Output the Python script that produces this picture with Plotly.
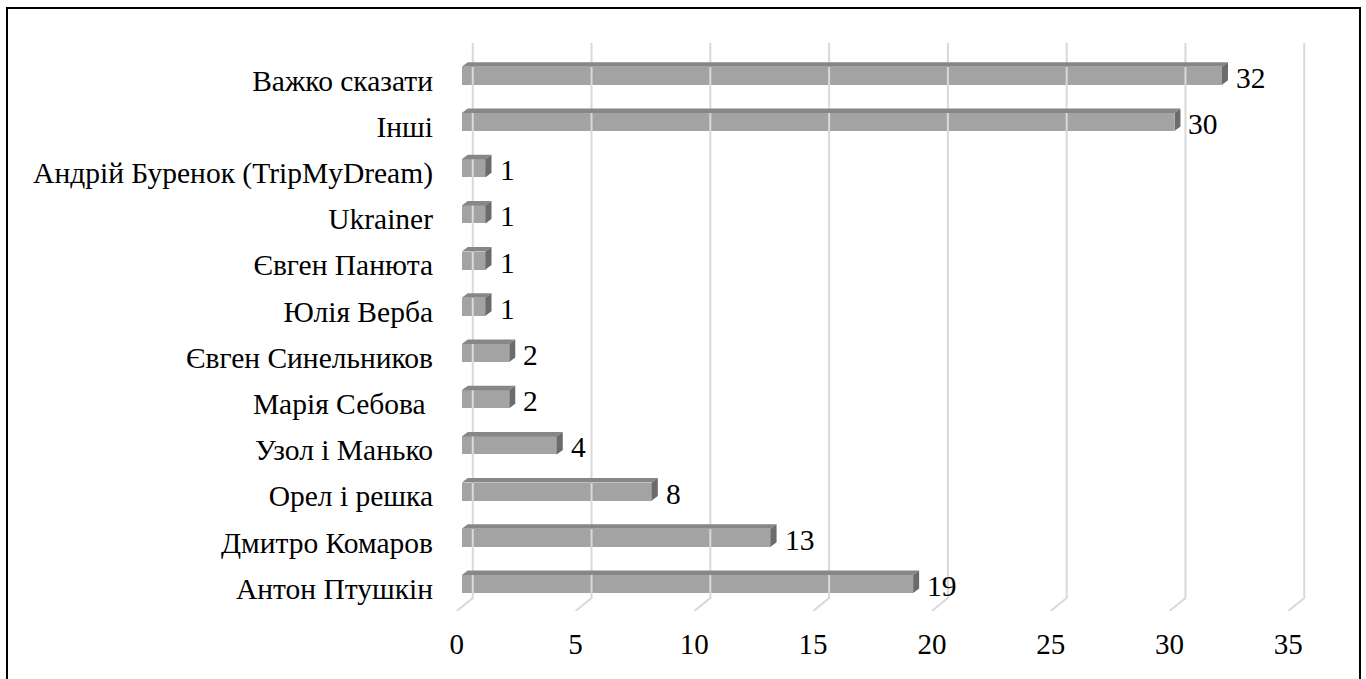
import plotly.graph_objects as go

# Survey answers (top to bottom as listed) and their counts
categories = [
    "Важко сказати",
    "Інші",
    "Андрій Буренок (TripMyDream)",
    "Ukrainer",
    "Євген Панюта",
    "Юлія Верба",
    "Євген Синельников",
    "Марія Себова ",
    "Узол і Манько",
    "Орел і решка",
    "Дмитро Комаров",
    "Антон Птушкін",
]
values = [32, 30, 1, 1, 1, 1, 2, 2, 4, 8, 13, 19]
tick_values = [0, 5, 10, 15, 20, 25, 30, 35]

# ---- geometry of the pseudo-3D frame -------------------------------------
W, H = 1366, 679
M_L, M_R, M_T, M_B = 438, 49, 43, 68
X_RANGE = [-1.0, 36.0]
Y_RANGE = [-0.584, 11.71]
plot_w = W - M_L - M_R
plot_h = H - M_T - M_B
px_x = plot_w / (X_RANGE[1] - X_RANGE[0])   # pixels per value unit
px_y = plot_h / (Y_RANGE[1] - Y_RANGE[0])   # pixels per category step

BAR_H = 18 / px_y          # front-face thickness
DX = 6 / px_x              # bar depth (right)
DY = 4.5 / px_y            # bar depth (up)
WALL_DX = 11 / px_x        # back wall offset from bar front plane
FLOOR_DX = 5 / px_x        # floor front edge offset (left)
FLOOR_BACK_Y = Y_RANGE[0] + 13 / px_y

FRONT = "#a3a3a3"
TOP = "#878787"
SIDE = "#6b6b6b"
GRID = "#d9d9d9"
FONT = "Liberation Serif"
LABEL_SIZE = 29.5
TICK_SIZE = 29

n = len(categories)
ypos = [n - 1 - i for i in range(n)]  # first category at the top

fig = go.Figure()

# Back-wall gridlines that bend onto the floor
for v in tick_values:
    xb = v + WALL_DX
    xf = v - FLOOR_DX
    fig.add_trace(go.Scatter(
        x=[xb, xb, xf], y=[Y_RANGE[1], FLOOR_BACK_Y, Y_RANGE[0]],
        mode="lines", line=dict(color=GRID, width=2),
        hoverinfo="skip", showlegend=False,
    ))

# Front faces of the bars
fig.add_trace(go.Bar(
    x=values, y=ypos, orientation="h", width=BAR_H,
    marker=dict(color=FRONT, line=dict(width=0)),
    showlegend=False, hoverinfo="x",
))

# Top and side faces for depth
for v, y in zip(values, ypos):
    top_y = y + BAR_H / 2
    bot_y = y - BAR_H / 2
    fig.add_trace(go.Scatter(
        x=[0, v, v + DX, DX, 0],
        y=[top_y, top_y, top_y + DY, top_y + DY, top_y],
        fill="toself", fillcolor=TOP, mode="lines",
        line=dict(width=0, color=TOP), hoverinfo="skip", showlegend=False,
    ))
    fig.add_trace(go.Scatter(
        x=[v, v + DX, v + DX, v, v],
        y=[bot_y, bot_y + DY, top_y + DY, top_y, bot_y],
        fill="toself", fillcolor=SIDE, mode="lines",
        line=dict(width=0, color=SIDE), hoverinfo="skip", showlegend=False,
    ))

# Value labels next to each bar
for v, y in zip(values, ypos):
    fig.add_annotation(
        x=v, y=y, text=str(v), showarrow=False, xanchor="left",
        xshift=12, yshift=-2, font=dict(family=FONT, size=LABEL_SIZE, color="#000"),
    )

# Outer chart border
def paper_x(px):
    return (px - M_L) / plot_w

def paper_y(py):
    return (H - M_B - py) / plot_h

fig.add_shape(
    type="rect", xref="paper", yref="paper",
    x0=paper_x(7), x1=paper_x(1360), y0=paper_y(700), y1=paper_y(8),
    line=dict(color="#000", width=2), fillcolor="rgba(0,0,0,0)",
)

fig.update_layout(
    width=W, height=H,
    margin=dict(l=M_L, r=M_R, t=M_T, b=M_B),
    paper_bgcolor="white", plot_bgcolor="white",
    font=dict(family=FONT, size=LABEL_SIZE, color="#000"),
    bargap=0,
    xaxis=dict(range=X_RANGE, showgrid=False, zeroline=False,
               showticklabels=False, ticks="", showline=False),
    xaxis2=dict(range=[X_RANGE[0] + FLOOR_DX, X_RANGE[1] + FLOOR_DX],
                overlaying="x", side="bottom", anchor="y",
                tickvals=tick_values, ticktext=[str(t) for t in tick_values],
                showgrid=False, zeroline=False, showline=False, ticks="",
                ticklabelstandoff=13,
                tickfont=dict(family=FONT, size=TICK_SIZE, color="#000")),
    yaxis=dict(range=Y_RANGE, showgrid=False, zeroline=False,
               showticklabels=False, ticks="", showline=False),
    yaxis2=dict(range=[Y_RANGE[0] + 4.5 / px_y, Y_RANGE[1] + 4.5 / px_y],
                overlaying="y", side="left", anchor="x",
                tickvals=ypos, ticktext=categories,
                showgrid=False, zeroline=False, showline=False, ticks="",
                ticklabelstandoff=4,
                tickfont=dict(family=FONT, size=LABEL_SIZE, color="#000")),
)

# invisible trace so the secondary axes are rendered
fig.add_trace(go.Scatter(x=[0], y=[0], xaxis="x2", yaxis="y2", mode="markers",
                         marker=dict(opacity=0), hoverinfo="skip", showlegend=False))

fig.write_html("out.html")
